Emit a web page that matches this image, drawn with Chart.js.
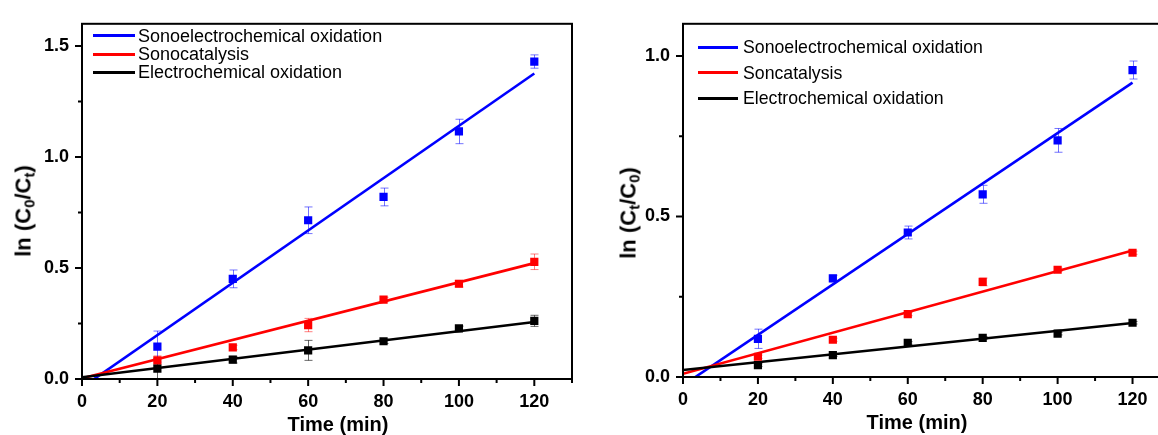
<!DOCTYPE html>
<html>
<head>
<meta charset="utf-8">
<script src="https://cdn.jsdelivr.net/npm/chart.js@4/dist/chart.umd.min.js"></script>
<style>
	html, body { margin: 0; padding: 0; background: #fff; overflow: hidden; }
	body { width: 1158px; height: 435px; position: relative; font-family: "Liberation Sans", Arial, sans-serif; }
	.panel { position: absolute; top: 0; height: 435px; }
	.ytitle, .xtitle { position: absolute; font-weight: bold; white-space: nowrap; color: #000; }
	.ytitle { font-size: 22px; transform: translate(-50%, -50%) rotate(-90deg); }
	.xtitle { font-size: 20px; transform: translate(-50%, -50%); }
	.ytitle sub { font-size: 15px; vertical-align: -4px; }
	.legend { position: absolute; font-size: 18px; color: #000; }
	.legend .row { position: absolute; left: 0; white-space: nowrap; }
	.legend .swatch { position: absolute; height: 3px; top: -1.5px; }
	.legend .label { position: absolute; transform: translateY(-50%); }
</style>
</head>
<body>
<div class="panel" style="left:0;width:590px"><canvas id="chartLeft"></canvas></div>
<div class="panel" style="left:600px;width:640px"><canvas id="chartRight"></canvas></div>

<div class="ytitle" style="left:24px;top:211px">ln (C<sub>0</sub>/C<sub>t</sub>)</div>
<div class="ytitle" style="left:629px;top:213px">ln (C<sub>t</sub>/C<sub>0</sub>)</div>
<div class="xtitle" style="left:338px;top:424px">Time (min)</div>
<div class="xtitle" style="left:917px;top:422px">Time (min)</div>

<div class="legend" id="legendLeft" style="left:93px;top:0"></div>
<div class="legend" id="legendRight" style="left:698px;top:0;font-size:17.7px"></div>

<script>
'use strict'

// sampling times (min)
const times = [20, 40, 60, 80, 100, 120];
const fitX = [0, 120];

// left panel: ln(C0/Ct)
const leftBlue = [0.146, 0.451, 0.715, 0.820, 1.115, 1.430];
const leftBlueErr = [0.07, 0.04, 0.06, 0.04, 0.055, 0.03];
const leftRed = [0.084, 0.142, 0.243, 0.358, 0.429, 0.528];
const leftRedErr = [0.02, 0.01, 0.03, 0.01, 0.015, 0.035];
const leftBlack = [0.047, 0.087, 0.129, 0.170, 0.228, 0.262];
const leftBlackErr = [0.045, 0.015, 0.045, 0.01, 0.01, 0.025];
const leftFitBlue = [-0.038, 1.376];
const leftFitRed = [0.003, 0.522];
const leftFitBlack = [0.008, 0.257];

// right panel: ln(Ct/C0)
const rightBlue = [0.119, 0.307, 0.450, 0.569, 0.737, 0.956];
const rightBlueErr = [0.03, 0.01, 0.02, 0.028, 0.037, 0.028];
const rightRed = [0.063, 0.116, 0.196, 0.296, 0.334, 0.387];
const rightRedErr = [0.005, 0.005, 0.005, 0.012, 0.005, 0.005];
const rightBlack = [0.037, 0.068, 0.106, 0.122, 0.135, 0.169];
const rightBlackErr = [0.004, 0.004, 0.004, 0.004, 0.004, 0.004];
const rightFitBlue = [-0.026, 0.917];
const rightFitRed = [0.010, 0.394];
const rightFitBlack = [0.022, 0.168];

const leftLabels = ['Sonoelectrochemical oxidation', 'Sonocatalysis', 'Electrochemical oxidation'];
const rightLabels = ['Sonoelectrochemical oxidation', 'Soncatalysis', 'Electrochemical oxidation'];

const colors = {
	blue: '#0000FF',
	red: '#FF0000',
	black: '#000000',
	blueErr: 'rgba(0, 0, 255, 0.55)',
	redErr: 'rgba(255, 0, 0, 0.5)',
	blackErr: 'rgba(0, 0, 0, 0.6)',
};

const FONT = '"Liberation Sans", Arial, sans-serif';

function pts(xs, ys){
	return xs.map((x, i) => ({x: x, y: ys[i]}));
}

// error bars under the markers
const errorBars = {
	id: 'errorBars',
	beforeDatasetsDraw(chart){
		const ctx = chart.ctx;
		const xs = chart.scales.x, ys = chart.scales.y;
		chart.data.datasets.forEach(ds => {
			if(!ds.err) return;
			ctx.save();
			ctx.strokeStyle = ds.errColor;
			ctx.lineWidth = 1;
			ds.data.forEach((p, i) => {
				const px = Math.round(xs.getPixelForValue(p.x)) + 0.5;
				const top = ys.getPixelForValue(p.y + ds.err[i]);
				const bot = ys.getPixelForValue(p.y - ds.err[i]);
				ctx.beginPath();
				ctx.moveTo(px, top); ctx.lineTo(px, bot);
				ctx.moveTo(px - 4, top); ctx.lineTo(px + 4, top);
				ctx.moveTo(px - 4, bot); ctx.lineTo(px + 4, bot);
				ctx.stroke();
			});
			ctx.restore();
		});
	}
};

// box frame and outward ticks (major + minor)
const frame = {
	id: 'frame',
	afterDatasetsDraw(chart, args, opts){
		const ctx = chart.ctx;
		const a = chart.chartArea;
		const xs = chart.scales.x, ys = chart.scales.y;
		ctx.save();
		ctx.strokeStyle = '#000';
		ctx.lineWidth = 2;
		ctx.strokeRect(a.left, a.top, a.right - a.left, a.bottom - a.top);
		ctx.beginPath();
		for(let v = xs.min; v <= xs.max + 1e-9; v += opts.xStep){
			const px = xs.getPixelForValue(v);
			const major = Math.abs(v / opts.xMajor - Math.round(v / opts.xMajor)) < 1e-6;
			ctx.moveTo(px, a.bottom);
			ctx.lineTo(px, a.bottom + (major ? 7 : 4));
		}
		for(let v = ys.min; v <= ys.max + 1e-9; v += opts.yStep){
			const py = ys.getPixelForValue(v);
			const major = Math.abs(v / opts.yMajor - Math.round(v / opts.yMajor)) < 1e-6;
			ctx.moveTo(a.left, py);
			ctx.lineTo(a.left - (major ? 7 : 4), py);
		}
		ctx.stroke();
		ctx.restore();
	}
};

function makeChart(id, cfg){
	const fitStyle = (color) => ({
		showLine: true, borderColor: color, borderWidth: 2.6, pointRadius: 0, fill: false, order: 1,
	});
	const markStyle = (color) => ({
		showLine: false, pointStyle: 'rect', pointRadius: 5.8, backgroundColor: color,
		borderColor: color, borderWidth: 0, order: 0,
	});
	return new Chart(document.getElementById(id), {
		type: 'scatter',
		data: {
			datasets: [
				Object.assign({data: pts(fitX, cfg.fitBlack)}, fitStyle(colors.black)),
				Object.assign({data: pts(fitX, cfg.fitRed)}, fitStyle(colors.red)),
				Object.assign({data: pts(fitX, cfg.fitBlue)}, fitStyle(colors.blue)),
				Object.assign({data: pts(times, cfg.black), err: cfg.blackErr, errColor: colors.blackErr}, markStyle(colors.black)),
				Object.assign({data: pts(times, cfg.red), err: cfg.redErr, errColor: colors.redErr}, markStyle(colors.red)),
				Object.assign({data: pts(times, cfg.blue), err: cfg.blueErr, errColor: colors.blueErr}, markStyle(colors.blue)),
			],
		},
		options: {
			responsive: true,
			maintainAspectRatio: false,
			animation: false,
			events: [],
			layout: {padding: cfg.padding},
			plugins: {
				legend: {display: false},
				tooltip: {enabled: false},
				frame: {xStep: 10, xMajor: 20, yStep: 0.25, yMajor: 0.5},
			},
			scales: {
				x: {
					type: 'linear', min: 0, max: 130,
					grid: {display: false, drawTicks: false},
					border: {display: false},
					afterFit: (s) => { s.height = cfg.xHeight; },
					ticks: {
						stepSize: 20, includeBounds: false, padding: 12, maxRotation: 0,
						color: '#000', font: {family: FONT, size: 18, weight: 'bold'},
						callback: (v) => v % 20 === 0 ? String(v) : '',
					},
				},
				y: {
					type: 'linear', min: 0, max: cfg.yMax,
					grid: {display: false, drawTicks: false},
					border: {display: false},
					afterFit: (s) => { s.width = cfg.yWidth; },
					ticks: {
						stepSize: 0.5, includeBounds: false, padding: 13,
						color: '#000', font: {family: FONT, size: 18, weight: 'bold'},
						callback: (v) => v.toFixed(1),
					},
				},
			},
		},
		plugins: [errorBars, frame],
	});
}

makeChart('chartLeft', {
	blue: leftBlue, blueErr: leftBlueErr, red: leftRed, redErr: leftRedErr, black: leftBlack, blackErr: leftBlackErr,
	fitBlue: leftFitBlue, fitRed: leftFitRed, fitBlack: leftFitBlack,
	yMax: 1.6, yWidth: 82, xHeight: 56, padding: {left: 0, top: 17, right: 18, bottom: 0},
});

makeChart('chartRight', {
	blue: rightBlue, blueErr: rightBlueErr, red: rightRed, redErr: rightRedErr, black: rightBlack, blackErr: rightBlackErr,
	fitBlue: rightFitBlue, fitRed: rightFitRed, fitBlack: rightFitBlack,
	yMax: 1.1, yWidth: 83, xHeight: 58, padding: {left: 0, top: 20, right: 70, bottom: 0},
});

// legends (line sample + label)
function buildLegend(id, labels, rows, lineLen, gap){
	const el = document.getElementById(id);
	const cols = [colors.blue, colors.red, colors.black];
	labels.forEach((txt, i) => {
		const row = document.createElement('div');
		row.className = 'row';
		row.style.top = rows[i] + 'px';
		row.innerHTML = '<div class="swatch" style="width:' + lineLen + 'px;background:' + cols[i] + '"></div>' +
			'<div class="label" style="left:' + (lineLen + gap) + 'px">' + txt + '</div>';
		el.appendChild(row);
	});
}
buildLegend('legendLeft', leftLabels, [35.7, 54, 72], 42, 3);
buildLegend('legendRight', rightLabels, [47.3, 72.7, 98.3], 40, 5);
</script>
</body>
</html>
